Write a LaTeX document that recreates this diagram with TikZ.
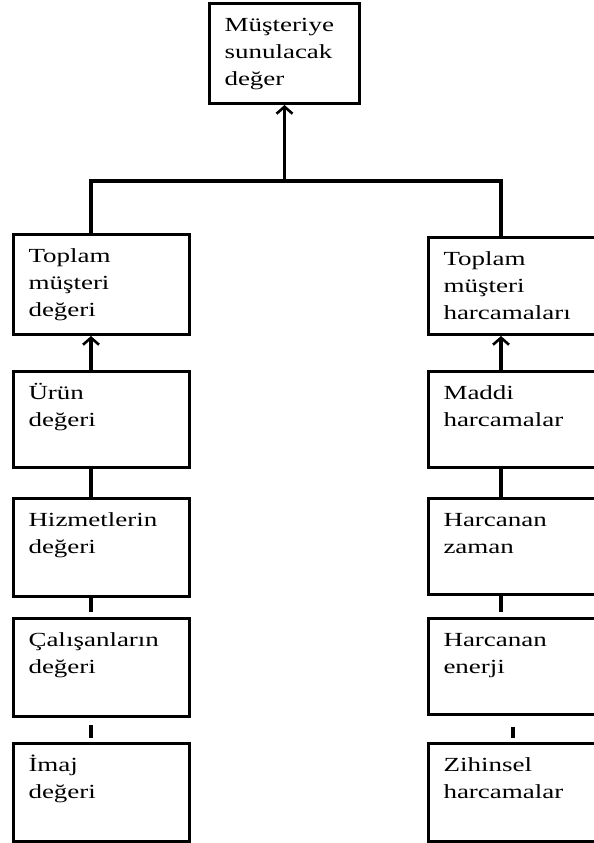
\documentclass[tikz,border=0pt]{standalone}
\usepackage{fontspec}
\setmainfont{Liberation Serif}[FakeStretch=1.35]
\usetikzlibrary{arrows.meta}

% text block inside a box: top-aligned, indented lines
\newcommand\cellbox[3]{\parbox[c][#2][t]{#1}{\fontsize{20}{27}\selectfont
  \leftskip=15pt\parindent=0pt\rule{0pt}{28pt}#3}}

\tikzset{
  cell/.style={draw=black, line width=3pt, inner sep=0pt, fill=white,
    anchor=north west},
  link/.style={line width=3.2pt, line cap=butt},
  up/.style={link, -{Straight Barb[length=7pt,width=16pt,line width=2.6pt]}},
}

\begin{document}
\begin{tikzpicture}[x=1pt, y=-1pt]
\useasboundingbox[fill=white] (0,0) rectangle (594,843);

% top box
\node[cell] (mv) at (208,2) {\cellbox{150pt}{100pt}{Müşteriye\\sunulacak\\değer}};

% left column
\node[cell] (tmd) at (12,233) {\cellbox{176pt}{100pt}{Toplam\\müşteri\\değeri}};
\node[cell] (urun) at (12,370) {\cellbox{176pt}{96pt}{Ürün\\değeri}};
\node[cell] (hiz) at (12,497) {\cellbox{176pt}{98pt}{Hizmetlerin\\değeri}};
\node[cell] (cal) at (12,617) {\cellbox{176pt}{98pt}{Çalışanların\\değeri}};
\node[cell] (imaj) at (12,742) {\cellbox{176pt}{98pt}{İmaj\\değeri}};

% right column (runs past the right edge)
\node[cell] (tmh) at (427,236) {\cellbox{177pt}{97pt}{Toplam\\müşteri\\harcamaları}};
\node[cell] (mad) at (427,370) {\cellbox{177pt}{96pt}{Maddi\\harcamalar}};
\node[cell] (zam) at (427,497) {\cellbox{177pt}{96pt}{Harcanan\\zaman}};
\node[cell] (ene) at (427,617) {\cellbox{177pt}{96pt}{Harcanan\\enerji}};
\node[cell] (zih) at (427,742) {\cellbox{177pt}{98pt}{Zihinsel\\harcamalar}};

% junction rail
\coordinate (jl) at (91,181);
\coordinate (jr) at (501,181);
\coordinate (jr2) at (513,181);

\draw[link] (tmd.north -| jl) -- (jl) -- (jr) -- (tmh.north -| jr);
\draw[up] (mv.south |- jl) -- (mv.south);

% left chain
\draw[up] (urun.north -| jl) -- (tmd.south -| jl);
\draw[link] (urun.south -| jl) -- (hiz.north -| jl);
\draw[link, shorten >=5pt] (hiz.south -| jl) -- (cal.north -| jl);
\draw[link, shorten <=7pt, shorten >=4pt] (cal.south -| jl) -- (imaj.north -| jl);

% right chain
\draw[up] (mad.north -| jr) -- (tmh.south -| jr);
\draw[link] (mad.south -| jr) -- (zam.north -| jr);
\draw[link, shorten >=5pt] (zam.south -| jr) -- (ene.north -| jr);
\draw[link, shorten <=11pt, shorten >=4pt] (ene.south -| jr2) -- (zih.north -| jr2);
\end{tikzpicture}
\end{document}
